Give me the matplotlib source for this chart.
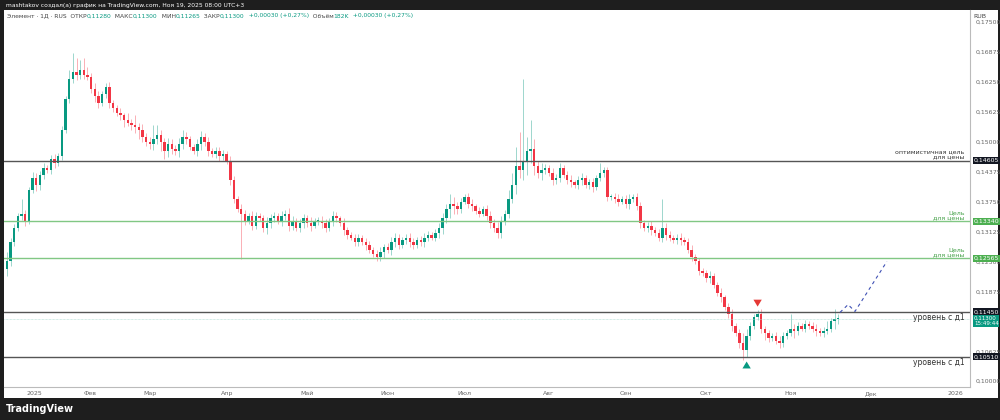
import matplotlib
matplotlib.use("Agg")
import matplotlib.pyplot as plt
from matplotlib.patches import Rectangle

closes = [
0.1250,0.1290,0.1320,0.1345,0.1350,0.1335,0.1400,0.1425,0.1410,0.1430,0.1445,0.1440,
0.1465,0.1455,0.1470,0.1525,0.1590,0.1630,0.1645,0.1640,0.1650,0.1640,0.1635,
0.1610,0.1595,0.1580,0.1600,0.1615,0.1580,0.1570,0.1560,0.1555,0.1545,0.1540,0.1535,0.1530,
0.1525,0.1510,0.1500,0.1495,0.1505,0.1515,0.1500,0.1480,0.1495,0.1485,
0.1480,0.1495,0.1510,0.1505,0.1490,0.1480,0.1495,0.1510,0.1500,0.1480,
0.1475,0.1480,0.1470,0.1475,0.1460,0.1420,0.1380,0.1360,0.1350,0.1335,0.1345,
0.1325,0.1345,0.1340,0.1320,0.1330,0.1340,0.1345,0.1335,0.1345,
0.1350,0.1325,0.1335,0.1320,0.1330,0.1340,0.1330,0.1325,0.1335,0.1335,
0.1330,0.1320,0.1335,0.1345,0.1340,0.1330,0.1315,0.1305,0.1300,0.1290,
0.1300,0.1290,0.1285,0.1275,0.1265,0.1260,0.1270,0.1280,0.1275,
0.1290,0.1300,0.1285,0.1295,0.1300,0.1290,0.1285,0.1295,0.1290,
0.1300,0.1305,0.1300,0.1310,0.1320,0.1340,0.1360,0.1370,0.1365,
0.1360,0.1375,0.1385,0.1370,0.1365,0.1355,0.1350,0.1360,0.1345,
0.1330,0.1320,0.1310,0.1335,0.1350,0.1380,0.1410,0.1450,0.1440,
0.1460,0.1480,0.1485,0.1450,0.1435,0.1440,0.1445,0.1435,0.1420,0.1425,
0.1445,0.1430,0.1420,0.1415,0.1410,0.1420,0.1425,0.1410,0.1415,0.1405,
0.1425,0.1435,0.1440,0.1385,0.1385,0.1380,0.1375,0.1380,
0.1370,0.1380,0.1385,0.1365,0.1330,0.1320,0.1325,0.1315,
0.1310,0.1300,0.1320,0.1305,0.1300,0.1295,0.1300,0.1295,
0.1290,0.1275,0.1260,0.1250,0.1230,0.1225,0.1215,0.1220,0.1200,0.1185,0.1175,
0.1155,0.1140,0.1115,0.1100,0.1080,0.1065,0.1095,0.1115,0.1135,
0.1140,0.1110,0.1100,0.1090,0.1095,0.1085,0.1080,0.1095,0.1100,0.1110,0.1105,
0.1115,0.1110,0.1120,0.1115,0.1110,0.1105,0.1100,0.1105,0.1110,0.1125,0.1130,0.1130]
first_open = 0.1235
# wick sizes in units of 0.0001
up_wick = [
20,10,8,6,30,8,6,12,10,8,10,6,8,10,6,8,6,20,40,30,20,25,15,
8,12,10,6,8,10,8,6,10,6,15,8,20,10,12,8,10,30,20,10,8,12,10,
8,12,15,10,8,6,10,12,8,10,6,8,10,8,6,10,8,6,10,8,6,
10,8,6,8,12,10,8,6,10,8,12,10,6,8,10,8,12,6,8,10,8,6,10,8,6,10,8,6,8,
8,6,10,8,6,8,10,6,8,12,10,8,6,8,10,8,6,8,10,8,6,8,10,12,10,20,
15,10,8,6,8,10,6,8,6,8,10,8,12,10,8,20,25,40,
70,170,30,60,20,10,15,8,6,10,8,10,6,8,10,6,8,10,6,8,10,6,20,8,
8,6,8,10,6,8,10,6,8,10,6,8,10,6,8,60,10,8,6,8,10,6,8,10,6,
8,6,8,10,6,8,10,6,8,10,6,10,20,15,8,6,8,10,6,8,6,8,10,8,6,30,
10,8,6,8,6,8,10,6,8,15,8]
dn_wick = [
15,10,8,6,8,10,6,8,12,10,8,6,8,10,6,8,6,10,8,12,10,8,6,
8,12,10,6,8,10,8,6,10,15,8,10,12,20,10,8,10,12,10,20,15,12,10,
8,12,10,10,8,6,10,12,8,10,6,8,10,8,6,10,8,6,95,8,6,
10,8,6,8,12,10,8,6,10,8,12,10,6,8,10,8,12,6,8,10,8,6,10,8,6,10,8,6,8,
8,6,10,8,6,8,10,12,8,12,10,8,6,8,10,8,6,8,10,8,6,8,10,12,10,20,
15,10,8,6,8,10,6,8,6,8,10,8,12,10,8,10,8,20,
15,20,30,25,20,10,15,8,6,10,8,10,6,8,10,6,8,10,6,8,10,6,8,8,
8,6,8,10,6,8,10,6,8,10,6,8,10,6,8,10,10,8,6,8,10,6,8,10,6,
8,6,8,10,6,8,10,6,8,10,6,10,20,15,8,6,8,10,13,8,6,8,10,8,6,6,
15,8,6,8,6,8,10,6,8,6,8]

levels_dark = [0.14605, 0.11450, 0.10510]
levels_green = [0.13340, 0.12565]
last_price = 0.11300
forecast_x = [227.5, 229.7, 231.6, 240.3]
forecast_y = [0.11437, 0.11600, 0.11458, 0.12500]
month_labels = ["2025", "Фев", "Мар", "Апр", "Май", "Июн", "Июл", "Авг", "Сен", "Окт", "Ноя", "Дек", "2026"]
month_pos = [7.4, 22.6, 39, 60, 82, 104, 125, 148, 169, 191, 214, 236, 259]
price_ticks = [0.10000, 0.10625, 0.11875, 0.12500, 0.13125, 0.13750, 0.14375, 0.15000, 0.15625, 0.16250, 0.16875, 0.17500]

UP, DN = "#089981", "#f23645"
W, H = 1000, 420
fig = plt.figure(figsize=(10, 4.2), dpi=100, facecolor="#1e1e1e")
bg = fig.add_axes([4/W, (420-398)/H, 994/W, 388/H]); bg.set_axis_off()
bg.add_patch(Rectangle((0, 0), 1, 1, transform=bg.transAxes, color="white"))
ax = fig.add_axes([4/W, (420-387)/H, 966/W, 377/H])
ax.set_facecolor("white")
for s in ax.spines.values():
    s.set_visible(False)
ax.spines["right"].set_visible(True); ax.spines["right"].set_color("#bbbbbb")
ax.spines["bottom"].set_visible(True); ax.spines["bottom"].set_color("#bbbbbb")

n = len(closes)
opens = [first_open] + closes[:-1]
for i in range(n):
    o, c = opens[i], closes[i]
    col = UP if c >= o else DN
    hi = max(o, c) + up_wick[i % len(up_wick)] * 1e-4
    lo = min(o, c) - dn_wick[i % len(dn_wick)] * 1e-4
    ax.vlines(i, lo, hi, color=col, lw=0.5, alpha=0.55)
    h = max(abs(c - o), 0.00012)
    ax.add_patch(Rectangle((i - 0.33, min(o, c)), 0.66, h, color=col, lw=0))

xmax = 263
for lv in levels_dark:
    ax.axhline(lv, color="#555555", lw=1.0)
for lv in levels_green:
    ax.axhline(lv, color="#81c784", lw=1.0)
ax.axhline(last_price, color="#a8d8cf", lw=0.5, ls=(0, (1, 1)))
ax.plot(forecast_x, forecast_y, color="#3f51b5", lw=0.8, ls=(0, (3, 3)))

tx = xmax - 1.5
ax.text(tx, 0.14605 + 0.0003, "оптимистичная цель\nдля цены", ha="right", va="bottom", fontsize=4.5, color="#333333", linespacing=1.0)
for lv in levels_green:
    ax.text(tx, lv + 0.0003, "Цель\nдля цены", ha="right", va="bottom", fontsize=4.5, color="#43a047", linespacing=1.0)
ax.text(tx, 0.11450 - 0.0003, "уровень с д1", ha="right", va="top", fontsize=5.5, color="#333333")
ax.text(tx, 0.10510 - 0.0003, "уровень с д1", ha="right", va="top", fontsize=5.5, color="#333333")

ax.annotate("", xy=(205, 0.1150), xytext=(205, 0.1168),
            arrowprops=dict(arrowstyle="simple,head_width=0.6,head_length=0.5,tail_width=0.3", color="#e53935", lw=0))
ax.annotate("", xy=(202, 0.1047), xytext=(202, 0.1029),
            arrowprops=dict(arrowstyle="simple,head_width=0.6,head_length=0.5,tail_width=0.3", color="#089981", lw=0))

ax.set_xlim(-0.8, xmax)
ax.set_ylim(0.0988, 0.1775)
ax.yaxis.tick_right()
ax.set_yticks(price_ticks)
ax.set_yticklabels([f"{t:.5f}".replace(".", ",") for t in price_ticks])
ax.tick_params(axis="y", length=0, pad=4, labelsize=4.5, labelcolor="#666666")
ax.set_xticks(month_pos)
ax.set_xticklabels(month_labels)
ax.tick_params(axis="x", length=0, pad=3, labelsize=4.5, labelcolor="#666666")

def tag(y, txt, fc, fs=4.5):
    ax.text(1.004, y, txt, transform=ax.get_yaxis_transform(), ha="left", va="center",
            fontsize=fs, color="white", bbox=dict(boxstyle="square,pad=0.15", fc=fc, ec="none"), zorder=5)
tag(0.14605, "0,14605", "#131722")
tag(0.13340, "0,13340", "#4caf50")
tag(0.12565, "0,12565", "#4caf50")
tag(0.11450, "0,11450", "#131722")
tag(0.11260, "0,11300\n15:49:44", "#089981", fs=4)
tag(0.10510, "0,10510", "#131722")
ax.text(1.004, 0.9815, "RUB", transform=ax.transAxes, fontsize=4.5, color="#444444", ha="left", va="center")

fig.text(6/W, 1 - 5/H, "mashtakov создал(а) график на TradingView.com, Ноя 19, 2025 08:00 UTC+3",
         fontsize=4.3, color="white", va="center")
parts = [("Элемент · 1Д · RUS  ОТКР", "#444444"), ("0,11280", UP), ("  МАКС", "#444444"), ("0,11300", UP),
         ("  МИН", "#444444"), ("0,11265", UP), ("  ЗАКР", "#444444"), ("0,11300", UP),
         ("  +0,00030 (+0,27%)", UP), ("  Объём", "#444444"), ("182K", UP), ("  +0,00030 (+0,27%)", UP)]
prev = fig.text(7/W, 1 - 16/H, parts[0][0], fontsize=4.3, color=parts[0][1], va="center")
for t, c in parts[1:]:
    prev = ax.annotate(t, xy=(1, 0.5), xycoords=prev, fontsize=4.3, color=c, va="center", ha="left")
fig.text(6/W, 1 - 409/H, "TradingView", fontsize=7, color="white", weight="bold", va="center")
fig.savefig("out.png", dpi=100, facecolor=fig.get_facecolor())
